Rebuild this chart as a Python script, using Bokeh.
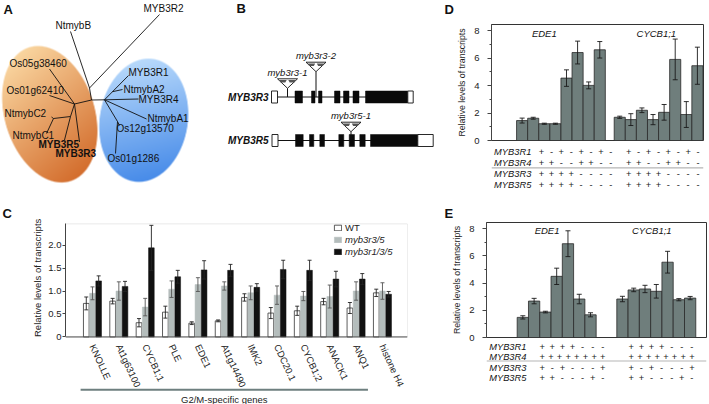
import numpy as np
from bokeh.plotting import figure
from bokeh.layouts import row, column
from bokeh.models import (Range1d, FixedTicker, Whisker, TeeHead, ColumnDataSource,
                          Legend, LegendItem, Span, BoxAnnotation, Title)
from bokeh.core.properties import value
from bokeh.embed import file_html
from bokeh.resources import INLINE

FONT = "Liberation Sans"
F = value(FONT)

# ---------------- Panel A: tree ----------------
tree_names = ["MYB3R2", "NtmybB", "Os05g38460", "Os01g62410", "NtmybC2", "NtmybC1",
              "MYB3R5", "MYB3R3", "MYB3R1", "NtmybA2", "MYB3R4", "NtmybA1",
              "Os12g13570", "Os01g1286"]
tree_lab_x = [143, 55, 9, 6, 4, 12, 38, 55, 128, 123, 138, 147, 116, 107]
tree_lab_y = [8, 25, 63, 90, 113, 135, 144, 153, 72, 89, 99, 118, 128, 158]
tree_bold = [0, 0, 0, 0, 0, 0, 1, 1, 0, 0, 0, 0, 0, 0]
edge_x0 = [70, 159, 89, 91, 91, 74, 74, 74, 70, 53, 53, 70, 74, 104, 112, 104, 104, 104, 117, 117]
edge_y0 = [31, 14, 87.5, 99.5, 99.5, 103.5, 103.5, 103.5, 116, 118, 118, 116, 103.5, 99.3, 91.2, 99.3, 99.3, 99.3, 121, 121]
edge_x1 = [89, 89, 91, 104, 74, 49, 49, 70, 53, 51, 46, 64, 79, 128, 122, 138, 146, 117, 119, 115]
edge_y1 = [87.5, 87.5, 99.5, 99.3, 103.5, 68.5, 95, 116, 118, 116.5, 133, 139.5, 141.5, 75, 89, 98.5, 118.5, 121, 125, 153]
# clade ellipses: cx, cy, width, height, tilt(deg), top colour, bottom colour
clades = [(49, 114, 90, 140, 17, (249, 212, 158), (206, 94, 28)),
          (143, 120, 88, 124, -9, (182, 216, 251), (55, 128, 230))]

# ---------------- Panel B: gene structures ----------------
gene_names = ["MYB3R3", "MYB3R5"]
gene_y = [96.5, 140]
gene_utr5 = [(271, 277), (271.5, 277.5)]
gene_utr3 = [(407.3, 412.7), (417.3, 432.7)]
gene_exons = [[(294.5, 302), (311, 314.5), (318, 321.5), (334, 339.5), (343, 348.5), (352.5, 358.5), (365, 407.3)],
              [(295, 302.7), (309, 313.3), (319.3, 324), (338.3, 343.3), (348.7, 354), (359.3, 364.7), (370, 417.3)]]
ins_names = ["myb3r3-1", "myb3r3-2", "myb3r5-1"]
ins_x = [287, 315.5, 350.5]
ins_gene = [0, 0, 1]
ins_top = [78.3, 61.7, 121.7]

# ---------------- Panel C ----------------
c_genes = ["KNOLLE", "At1g63100", "CYCB1;1", "PLE", "EDE1", "At1g14490", "IMK2",
           "CDC20.1", "CYCB1;2", "ANACK1", "ANQ1", "histone H4"]
c_wt = [0.73, 0.78, 0.31, 0.54, 0.30, 0.35, 0.86, 0.52, 0.57, 0.77, 0.63, 0.96]
c_wt_err = [0.14, 0.06, 0.09, 0.13, 0.03, 0.02, 0.08, 0.12, 0.10, 0.07, 0.12, 0.08]
c_m35 = [0.95, 1.00, 0.65, 1.04, 1.14, 1.11, 0.96, 0.91, 0.89, 0.88, 1.00, 1.00]
c_m35_err = [0.14, 0.20, 0.19, 0.18, 0.15, 0.09, 0.15, 0.20, 0.10, 0.25, 0.20, 0.18]
c_m135 = [1.22, 1.10, 1.94, 1.31, 1.46, 1.45, 1.08, 1.47, 1.45, 1.26, 1.26, 0.93]
c_m135_err = [0.11, 0.11, 0.49, 0.14, 0.20, 0.13, 0.08, 0.20, 0.22, 0.17, 0.12, 0.06]
c_series = ["WT", "myb3r3/5", "myb3r1/3/5"]
c_yticks = [0, 0.5, 1.0, 1.5, 2.0]
c_ytick_labels = ["0", "0.5", "1.0", "1.5", "2.0"]
c_group_label = "G2/M-specific genes"
c_group_span = (0, 10)

# ---------------- Panel D ----------------
d_groups = ["EDE1", "CYCB1;1"]
d_ede1 = [1.45, 1.62, 1.22, 1.22, 4.54, 6.40, 4.01, 6.60]
d_ede1_err = [0.18, 0.07, 0.04, 0.04, 0.60, 0.83, 0.25, 0.60]
d_cyc = [1.69, 1.52, 2.20, 1.52, 2.05, 5.90, 1.89, 5.44]
d_cyc_err = [0.08, 0.43, 0.17, 0.37, 0.57, 1.48, 0.94, 1.35]
d_rows = ["MYB3R1", "MYB3R4", "MYB3R3", "MYB3R5"]
d_signs = ["+-+-+-+-", "++--++--", "++++----", "++++----"]

# ---------------- Panel E ----------------
e_groups = ["EDE1", "CYCB1;1"]
e_ede1 = [1.48, 2.68, 1.87, 4.50, 6.90, 2.83, 1.67]
e_ede1_err = [0.12, 0.20, 0.06, 0.60, 0.95, 0.35, 0.15]
e_cyc = [2.83, 3.50, 3.57, 3.40, 5.54, 2.78, 2.90]
e_cyc_err = [0.20, 0.13, 0.27, 0.50, 0.80, 0.08, 0.12]
e_rows = ["MYB3R1", "MYB3R4", "MYB3R3", "MYB3R5"]
e_signs = ["++++---", "++++++++", "+-+---+", "++---+-"]

yticks_de = [0, 2, 4, 6, 8]
yminor_de = [1, 3, 5, 7]
YLABEL = "Relative levels of transcripts"

BAR_FILL = "#6f7e7c"

# page layout (pixels)
X0_TOP = 454     # where the D column starts
X0_BOT = 440     # where the E column starts
FRAME_L = 486    # bar frames' left edge (D and E)
TABLE_L = 460    # tables' left edge (D and E)


def blank(w, h, xr, yr, **kw):
    p = figure(width=w, height=h, x_range=xr, y_range=yr, output_backend="svg",
               toolbar_location=None, x_axis_location=None, y_axis_location=None,
               min_border=0, outline_line_color=None, **kw)
    p.grid.grid_line_color = None
    return p


def letter(p, x, y, s):
    p.text(x=[x], y=[y], text=[s], text_font=F, text_font_size="13px",
           text_font_style="bold", text_baseline="middle", text_align="left",
           text_color="#111111")


# ================= Panel A =================
H = 200.0
pA = blank(200, 200, Range1d(0, 200), Range1d(0, 200))
N = 400
g = (np.arange(N) + 0.5) / N * 200
GX, GY = np.meshgrid(g, g)
rgba = np.zeros((N, N, 4))
for cx_, cy_, w, h, ang, ctop, cbot in clades:
    a = np.deg2rad(ang)
    dx = GX - cx_
    dy = GY - (H - cy_)
    u = dx * np.cos(a) + dy * np.sin(a)
    v = -dx * np.sin(a) + dy * np.cos(a)
    r = np.sqrt((u / (w / 2)) ** 2 + (v / (h / 2)) ** 2)
    alpha = np.clip((1 - r) * (w / 2) / 0.8 + 0.5, 0, 1)
    t = np.clip((h / 2 - v) / h * 0.85 + (u / w) * 0.25, 0, 1)[..., None]
    col = np.array(ctop) * (1 - t) + np.array(cbot) * t
    m = (alpha > 0)[..., None]
    rgba[..., :3] = np.where(m, col, rgba[..., :3])
    rgba[..., 3] = np.maximum(rgba[..., 3], alpha * 255)
img = np.ascontiguousarray(np.clip(rgba, 0, 255).astype(np.uint8)).view(np.uint32).reshape(N, N)
pA.image_rgba(image=[img], x=0, y=0, dw=200, dh=200)
pA.multi_line(xs=[[a, b] for a, b in zip(edge_x0, edge_x1)],
              ys=[[H - a, H - b] for a, b in zip(edge_y0, edge_y1)],
              line_color="#111111", line_width=0.9)
for bold in (0, 1):
    idx = [i for i in range(len(tree_names)) if tree_bold[i] == bold]
    pA.text(x=[tree_lab_x[i] for i in idx], y=[H - tree_lab_y[i] for i in idx],
            text=[tree_names[i] for i in idx], text_font=F, text_font_size="10px",
            text_font_style="bold" if bold else "normal",
            text_align="left", text_baseline="middle", text_color="#111111")
letter(pA, 3, H - 9, "A")

# ================= Panel B (also carries the "D" panel letter) =================
pB = blank(X0_TOP - 200, 200, Range1d(200, X0_TOP), Range1d(0, 200))
EH = 6.0
for gi, name in enumerate(gene_names):
    yy = H - gene_y[gi]
    pB.segment(x0=[gene_utr5[gi][1]], y0=[yy], x1=[gene_utr3[gi][0]], y1=[yy],
               line_color="#111111", line_width=1)
    ex = gene_exons[gi]
    pB.quad(left=[e[0] for e in ex], right=[e[1] for e in ex], bottom=yy - EH, top=yy + EH,
            fill_color="#0a0a0a", line_color="#0a0a0a", line_width=0.5)
    pB.quad(left=[gene_utr5[gi][0], gene_utr3[gi][0]], right=[gene_utr5[gi][1], gene_utr3[gi][1]],
            bottom=yy - EH, top=yy + EH, fill_color="white", line_color="#111111", line_width=0.9)
pB.text(x=[268] * 2, y=[H - y for y in gene_y], text=gene_names, text_font=F,
        text_font_size="10px", text_font_style="bold italic", text_align="right",
        text_baseline="middle", text_color="#111111")
TW, TH = 10.0, 9.5
for k in range(len(ins_names)):
    x = ins_x[k]
    top = H - ins_top[k]
    yy = H - gene_y[ins_gene[k]]
    pB.segment(x0=[x], y0=[top - TH], x1=[x], y1=[yy], line_color="#111111", line_width=1)
    pB.patches(xs=[[x - TW, x + TW, x]], ys=[[top, top, top - TH]],
               fill_color="white", line_color="#111111", line_width=0.9)
    pB.patches(xs=[[x - 8, x - 0.8, x - 2.2, x - 6.8], [x + 0.8, x + 8, x + 6.8, x + 2.2]],
               ys=[[top - 1.2, top - 1.2, top - 3.8, top - 3.8]] * 2,
               fill_color="#555555", line_color=None)
pB.text(x=ins_x, y=[H - t + 6.5 for t in ins_top], text=ins_names, text_font=F,
        text_font_size="9.5px", text_font_style="italic", text_align="center",
        text_baseline="middle", text_color="#111111")
letter(pB, 236, H - 8, "B")
letter(pB, 444, H - 9, "D")


# ================= helpers for bar panels =================
def style_title(p, s, offset, standoff):
    p.title.text = s
    p.title.align = "left"
    p.title.offset = offset
    p.title.standoff = standoff
    p.title.text_font = FONT
    p.title.text_font_size = "13px"
    p.title.text_font_style = "bold"
    p.title.text_color = "#111111"


def style_yaxis(ax, ticks, minor=None, overrides=None, label=YLABEL, lsize="8.7px"):
    ax.ticker = FixedTicker(ticks=ticks, minor_ticks=minor or [])
    ax.major_tick_in = 0
    ax.major_tick_out = 3
    ax.minor_tick_in = 0
    ax.minor_tick_out = 2 if minor else 0
    ax.axis_line_color = "#444444"
    ax.major_tick_line_color = "#444444"
    ax.minor_tick_line_color = "#444444" if minor else None
    ax.major_label_text_font = FONT
    ax.major_label_text_font_size = "9.5px"
    ax.major_label_text_color = "#222222"
    ax.major_label_standoff = 3
    if label:
        ax.axis_label = label
        ax.axis_label_text_font = FONT
        ax.axis_label_text_font_size = lsize
        ax.axis_label_text_font_style = "normal"
        ax.axis_label_text_color = "#222222"
        ax.axis_label_standoff = 4
    if overrides:
        ax.major_label_overrides = overrides


def whisk(p, x, v, e, color, size):
    src = ColumnDataSource(dict(x=list(x), u=[a + b for a, b in zip(v, e)], l=[a - b for a, b in zip(v, e)]))
    p.add_layout(Whisker(source=src, base="x", upper="u", lower="l", level="overlay",
                         line_color=color, line_width=0.9,
                         upper_head=TeeHead(size=size, line_color=color, line_width=0.9),
                         lower_head=TeeHead(size=size, line_color=color, line_width=0.9)))


# ================= Panel C =================
cx = np.arange(len(c_genes), dtype=float)
C_TOP = 2.47
C_BOTTOM = -1.4707
pC = figure(width=X0_BOT, height=204, x_range=Range1d(-1.023, 11.95), y_range=Range1d(C_BOTTOM, C_TOP),
            output_backend="svg", toolbar_location=None, title="C", x_axis_location=None,
            min_border_left=65, min_border_right=X0_BOT - 407, min_border_top=21, min_border_bottom=0)
style_title(pC, "C", -63, 6)
pC.grid.grid_line_color = None
pC.outline_line_color = None
ya = pC.yaxis[0]
style_yaxis(ya, c_yticks, None, {t: s for t, s in zip(c_yticks, c_ytick_labels)}, label=None)
ya.bounds = (0, C_TOP)
ya.major_label_standoff = 1
pC.add_layout(Title(text=YLABEL, align="left", offset=67.5, standoff=6, text_font=FONT,
                    text_font_size="9.5px", text_font_style="normal", text_color="#222222"), "left")
pC.add_layout(BoxAnnotation(bottom=0, top=C_TOP - 0.005, fill_alpha=0, line_color="#8a8a8a",
                            line_width=1, level="underlay"))
pC.add_layout(Span(location=0, dimension="width", line_color="#555555", line_width=1))
OFF, BW = 0.235, 0.215
rW = pC.vbar(x=cx - OFF, top=c_wt, width=BW, fill_color="white", line_color="#333333", line_width=0.8)
rG = pC.vbar(x=cx, top=c_m35, width=BW, fill_color="#b4bdbc", line_color="#b4bdbc", line_width=0.5)
rK = pC.vbar(x=cx + OFF, top=c_m135, width=BW, fill_color="#111111", line_color="#111111", line_width=0.5)
whisk(pC, cx - OFF, c_wt, c_wt_err, "#222222", 4)
whisk(pC, cx, c_m35, c_m35_err, "#555555", 4)
whisk(pC, cx + OFF, c_m135, c_m135_err, "#222222", 4)
# category labels, slanted, below the axis
pC.text(x=cx, y=[-0.17] * len(c_genes), text=c_genes, angle=-1.14, text_font=F,
        text_font_size="9.5px", text_align="left", text_baseline="middle", text_color="#222222")
pC.segment(x0=[c_group_span[0] - 0.45], x1=[c_group_span[1] + 0.45], y0=[-1.148], y1=[-1.148],
           line_color="#6e7f7f", line_width=2)
pC.text(x=[(c_group_span[0] + c_group_span[1]) / 2], y=[-1.352], text=[c_group_label], text_font=F,
        text_font_size="9.5px", text_align="center", text_baseline="middle", text_color="#222222")
leg_kw = dict(label_text_font=FONT, label_text_font_size="9.5px", label_text_color="#222222",
              glyph_width=9, glyph_height=7, label_height=10, label_standoff=3, spacing=1,
              padding=0, margin=0, border_line_color=None, background_fill_alpha=0)
leg1 = Legend(items=[LegendItem(label=c_series[0], renderers=[rW])], location=(268, 171), **leg_kw)
leg2 = Legend(items=[LegendItem(label=c_series[1], renderers=[rG]),
                     LegendItem(label=c_series[2], renderers=[rK])],
              location=(268, 147), label_text_font_style="italic", **leg_kw)
pC.add_layout(leg1)
pC.add_layout(leg2)


# ================= Panels D / E =================
def bar_panel(lt, x0, h, top_b, bottom_b, right_b, xr, ytop, groups, vals, errs, glabels,
              gl_x, gl_y, standoff=0):
    W = 709 - x0
    p = figure(width=W, height=h, x_range=Range1d(*xr), y_range=Range1d(0, ytop),
               output_backend="svg", toolbar_location=None, x_axis_location=None,
               title=lt, min_border_left=FRAME_L - x0, min_border_right=right_b,
               min_border_top=top_b, min_border_bottom=bottom_b)
    if lt:
        style_title(p, lt, 444 - FRAME_L, standoff)
    p.grid.grid_line_color = None
    p.outline_line_color = "#333333"
    style_yaxis(p.yaxis[0], yticks_de, yminor_de)
    p.yaxis[0].major_tick_out = 4
    p.yaxis[0].major_label_standoff = 8
    p.yaxis[0].axis_label_standoff = 4
    for gx, v, e in zip(groups, vals, errs):
        p.vbar(x=gx, top=v, width=1.0, fill_color=BAR_FILL, line_color="#2a2a2a", line_width=0.8)
        whisk(p, gx, v, e, "#1a1a1a", 5)
    p.text(x=gl_x, y=gl_y, text=glabels, text_font=F,
           text_font_size="9.5px", text_font_style="italic", text_align="center",
           text_baseline="middle", text_color="#111111")
    return p


def table_panel(x0, h, right_b, xr, groups, nbars, rows, signs, row_y, yr, sep):
    W = 709 - x0
    BL = FRAME_L - x0
    TL = TABLE_L - x0
    ppu = (W - BL - right_b) / (xr[1] - xr[0])
    start = xr[1] - (W - TL - right_b) / ppu
    p = blank(W, h, Range1d(start, xr[1]), Range1d(*yr), min_border_left=TL,
              min_border_right=right_b)
    p.text(x=[start + 3 / ppu] * len(rows), y=row_y, text=rows, text_font=F,
           text_font_size="9.3px", text_font_style="italic", text_align="left",
           text_baseline="middle", text_color="#111111")
    sx, sy, st = [], [], []
    for g0 in groups:
        for ri, s in enumerate(signs):
            pos = np.linspace(0, nbars - 1, len(s)) + g0
            for ch, xx in zip(s, pos):
                sx.append(float(xx))
                sy.append(row_y[ri])
                st.append(ch)
    p.text(x=sx, y=sy, text=st, text_font=F, text_font_size="9.3px", text_align="center",
           text_baseline="middle", text_color="#222222")
    p.add_layout(Span(location=sep, dimension="width", line_color="#b5b5b5", line_width=1.2))
    return p


d_xr = (-2.76, 16.35)
d_g = [np.arange(8, dtype=float), 8.8 + np.arange(8, dtype=float)]
pD = bar_panel(None, X0_TOP, 146, 24, 6, 6, d_xr, 8.44, d_g, [d_ede1, d_cyc],
               [d_ede1_err, d_cyc_err], d_groups, [2.0, 12.1], [7.78, 7.78])
pDt = table_panel(X0_TOP, 54, 6, d_xr, [0.0, 8.8], 8, d_rows, d_signs, [0, 1, 2, 3],
                  (4.44, -0.524), 1.435)

e_xr = (-3.22, 16.28)
e_g = [np.arange(7, dtype=float), 8.83 + np.arange(7, dtype=float)]
pE = bar_panel("E", X0_BOT, 142, 22, 5, 3, e_xr, 8.46, e_g, [e_ede1, e_cyc],
               [e_ede1_err, e_cyc_err], e_groups, [2.15, 11.43], [7.88, 7.88], 4)
pEt = table_panel(X0_BOT, 62, 3, e_xr, [0.0, 8.83], 7, e_rows, e_signs, [0, 1, 2, 3],
                  (5.627, -0.451), 1.363)

layout = column(row(pA, pB, column(pD, pDt)), row(pC, column(pE, pEt)))
open("out.html", "w").write(file_html(layout, INLINE))
